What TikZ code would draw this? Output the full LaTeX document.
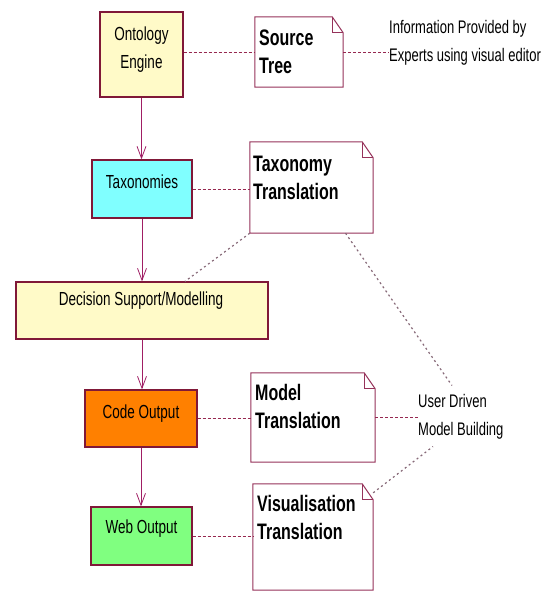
\documentclass[tikz,border=0pt]{standalone}
\usepackage{fontspec}
\usepackage{graphicx}
\setmainfont{Liberation Sans}
\usetikzlibrary{arrows.meta,calc}
\definecolor{boxline}{RGB}{128,24,56}
\definecolor{noteline}{RGB}{150,50,90}
\definecolor{flowline}{RGB}{160,30,100}
\definecolor{dashcol}{RGB}{150,40,80}
\definecolor{dotcol}{RGB}{135,105,120}
\definecolor{paleyellow}{RGB}{255,250,200}
\definecolor{cyanfill}{RGB}{128,255,255}
\definecolor{orangefill}{RGB}{255,128,0}
\definecolor{greenfill}{RGB}{128,255,128}
\newcommand\tallc[1]{\scalebox{1}[1.4]{\begin{tabular}{@{}c@{}}#1\end{tabular}}}
\newcommand\talll[1]{\scalebox{1}[1.4]{\begin{tabular}{@{}l@{}}#1\end{tabular}}}
\newcommand\dognote[1]{%
  \draw[notestroke] (#1.north west) -- ([xshift=-11pt]#1.north east) -- ([yshift=-16pt]#1.north east) -- (#1.south east) -- (#1.south west) -- cycle;
  \draw[notestroke] ([xshift=-11pt]#1.north east) -- ([xshift=-11pt,yshift=-16pt]#1.north east) -- ([yshift=-16pt]#1.north east);}
\begin{document}
\begin{tikzpicture}[x=1pt,y=-1pt,
  box/.style={draw=boxline, line width=1.2pt, inner sep=0pt},
  boxtext/.style={inner sep=0pt, font=\fontsize{13.5}{20}\selectfont},
  notestroke/.style={draw=noteline, line width=1pt},
  notebody/.style={inner sep=0pt, fill=white},
  notetext/.style={inner sep=0pt, anchor=west, font=\bfseries\fontsize{16}{20}\selectfont},
  plaintext/.style={inner sep=0pt, anchor=west, font=\fontsize{13}{20}\selectfont},
  flow/.style={draw=flowline, line width=1pt, -{Straight Barb[length=12pt,width=9pt,line width=0.8pt]}},
  dashline/.style={draw=dashcol, line width=1pt, dash pattern=on 3pt off 2pt},
  dotline/.style={draw=dotcol, line width=1.2pt, dash pattern=on 2pt off 3pt}]
\useasboundingbox[fill=white] (0,0) rectangle (554,592);

% main boxes
\node[box, fill=paleyellow, minimum width=83pt, minimum height=85pt] (onto) at (141.5,54.5) {};
\node[boxtext] (ontot) at (141.5,49) {\tallc{Ontology\\Engine}};
\node[box, fill=cyanfill, minimum width=100pt, minimum height=58pt] (tax) at (142,189) {};
\node[boxtext] (taxt) at (142,182.5) {\tallc{Taxonomies}};
\node[box, fill=paleyellow, minimum width=252pt, minimum height=57pt] (dec) at (142,310.5) {};
\node[boxtext] (dect) at (141,300) {\tallc{Decision Support/Modelling}};
\node[box, fill=orangefill, minimum width=112pt, minimum height=57pt] (code) at (141,418.5) {};
\node[boxtext] (codet) at (141,412.5) {\tallc{Code Output}};
\node[box, fill=greenfill, minimum width=101pt, minimum height=58pt] (web) at (141.5,536) {};
\node[boxtext] (webt) at (141.5,528) {\tallc{Web Output}};

% notes
\node[notebody, minimum width=88pt, minimum height=70pt] (st) at (299,52) {};
\dognote{st}
\node[notetext] (stt) at (259,54) {\talll{Source\\Tree}};
\node[notebody, minimum width=123pt, minimum height=91pt] (tt) at (311.5,187.5) {};
\dognote{tt}
\node[notetext] (ttt) at (253,179.5) {\talll{Taxonomy\\Translation}};
\node[notebody, minimum width=124pt, minimum height=89pt] (mt) at (313,417.5) {};
\dognote{mt}
\node[notetext] (mtt) at (255,409) {\talll{Model\\Translation}};
\node[notebody, minimum width=120pt, minimum height=106pt] (vt) at (313,537) {};
\dognote{vt}
\node[notetext] (vtt) at (257,520) {\talll{Visualisation\\Translation}};

% free texts
\node[plaintext] (info) at (389,42) {\talll{Information Provided by\\Experts using visual editor}};
\node[plaintext] (ud) at (418,415.5) {\talll{User Driven\\Model Building}};

% flow arrows
\draw[flow] (onto.south) -- (onto.south |- tax.north);
\draw[flow] (tax.south) -- (tax.south |- dec.north);
\draw[flow] (dec.south) -- (dec.south |- code.north);
\draw[flow] (code.south) -- (code.south |- web.north);

% dashed associations
\draw[dashline] (st.west -| onto.east) -- (st.west);
\draw[dashline] (st.east) -- (st.east -| info.west);
\draw[dashline] (tax.east) -- (tax.east -| tt.west);
\draw[dashline] (code.east) -- (code.east -| mt.west);
\draw[dashline] (web.east) -- (web.east -| vt.west);
\draw[dashline] (mt.east) -- (mt.east -| ud.west);

% dotted links
\draw[dotline] (tt.south west) -- ([xshift=43pt]dec.north);
\draw[dotline] ([xshift=34pt]tt.south) -- ([xshift=34pt,yshift=30pt]ud.west);
\draw[dotline] ([yshift=-9pt]vt.north east) -- ([xshift=15pt,yshift=-31pt]ud.west);
\end{tikzpicture}
\end{document}
